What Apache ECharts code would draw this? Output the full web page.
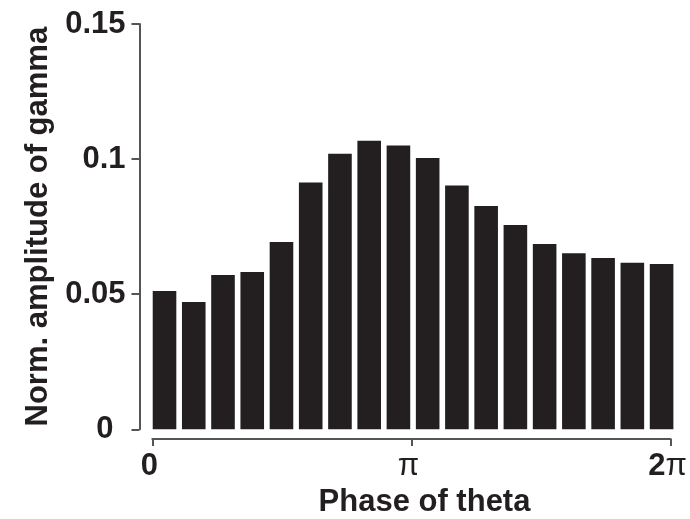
<!DOCTYPE html>
<html>
<head>
<meta charset="utf-8">
<script src="https://cdn.jsdelivr.net/npm/echarts@6/dist/echarts.min.js"></script>
<style>html,body{margin:0;padding:0;background:#fff;}#c{width:690px;height:519px;}</style>
</head>
<body>
<div id="c"></div>
<script>
// Phase bins (18 bins from 0 to 2π)
const phaseBins = ['1','2','3','4','5','6','7','8','9','10','11','12','13','14','15','16','17','18'];
const amplitude = [0.0512, 0.0471, 0.0571, 0.0582, 0.0693, 0.0913, 0.1020, 0.1068, 0.1050, 0.1004,
                   0.0902, 0.0826, 0.0756, 0.0686, 0.0652, 0.0634, 0.0616, 0.0612];
const yTicks = [0, 0.05, 0.1, 0.15];
const xTickLabels = {0: '0', 1: 'π', 2: '2π'};

const FONT = '"Liberation Sans", Arial, sans-serif';
const AX = '#555555';
const TXT = '#231f20';
const chart = echarts.init(document.getElementById('c'), null, {renderer: 'canvas'});
chart.setOption({
  animation: false,
  backgroundColor: '#ffffff',
  grid: [
    {left: 149.9, width: 526.3, top: 24, bottom: 89.7, containLabel: false},
    {left: 152.3, right: 16.7, top: 430, bottom: 76.3, containLabel: false}
  ],
  xAxis: [
    {type: 'category', gridIndex: 0, data: phaseBins, show: false, boundaryGap: true},
    {type: 'value', gridIndex: 1, min: 0, max: 2, interval: 1,
     axisLine: {show: true, lineStyle: {color: AX, width: 2}},
     axisTick: {show: true, inside: false, length: 7, lineStyle: {color: AX, width: 2}},
     splitLine: {show: false},
     axisLabel: {margin: 12, fontFamily: FONT, fontSize: 31, fontWeight: 'bold', color: TXT,
       padding: [0, 6, 0, 0],
       formatter: v => xTickLabels[v] === 'π' ? '{p|π}' : (xTickLabels[v] === '2π' ? '{b|2}{p|π}' : xTickLabels[v]),
       rich: {
         b: {fontFamily: FONT, fontSize: 31, fontWeight: 'bold', color: TXT},
         p: {fontFamily: FONT, fontSize: 31, fontWeight: 'normal', color: TXT}
       }},
     name: 'Phase of theta', nameLocation: 'middle', nameGap: 48,
     nameTextStyle: {fontFamily: FONT, fontSize: 31, fontWeight: 'bold', color: TXT, padding: [0, 0, 0, 26]}
    }
  ],
  yAxis: [
    {type: 'value', gridIndex: 0, min: yTicks[0], max: yTicks[yTicks.length - 1], interval: 0.05,
     offset: 10.4,
     axisLine: {show: true, lineStyle: {color: AX, width: 2}},
     axisTick: {show: true, inside: false, length: 8, lineStyle: {color: AX, width: 2}},
     splitLine: {show: false},
     axisLabel: {margin: 14, fontFamily: FONT, fontSize: 31, fontWeight: 'bold', color: TXT,
       formatter: v => v === 0 ? '{z|0}' : String(+v.toFixed(2)),
       rich: {z: {fontFamily: FONT, fontSize: 31, fontWeight: 'bold', color: TXT, padding: [0, 12, 0, 0]}}},
     name: 'Norm. amplitude of gamma', nameLocation: 'middle', nameGap: 73,
     nameTextStyle: {fontFamily: FONT, fontSize: 31, fontWeight: 'bold', color: TXT}
    },
    {type: 'value', gridIndex: 1, show: false}
  ],
  series: [{
    type: 'bar', xAxisIndex: 0, yAxisIndex: 0, data: amplitude,
    barWidth: 23.6,
    itemStyle: {color: '#231f20'}
  }]
});
</script>
</body>
</html>
